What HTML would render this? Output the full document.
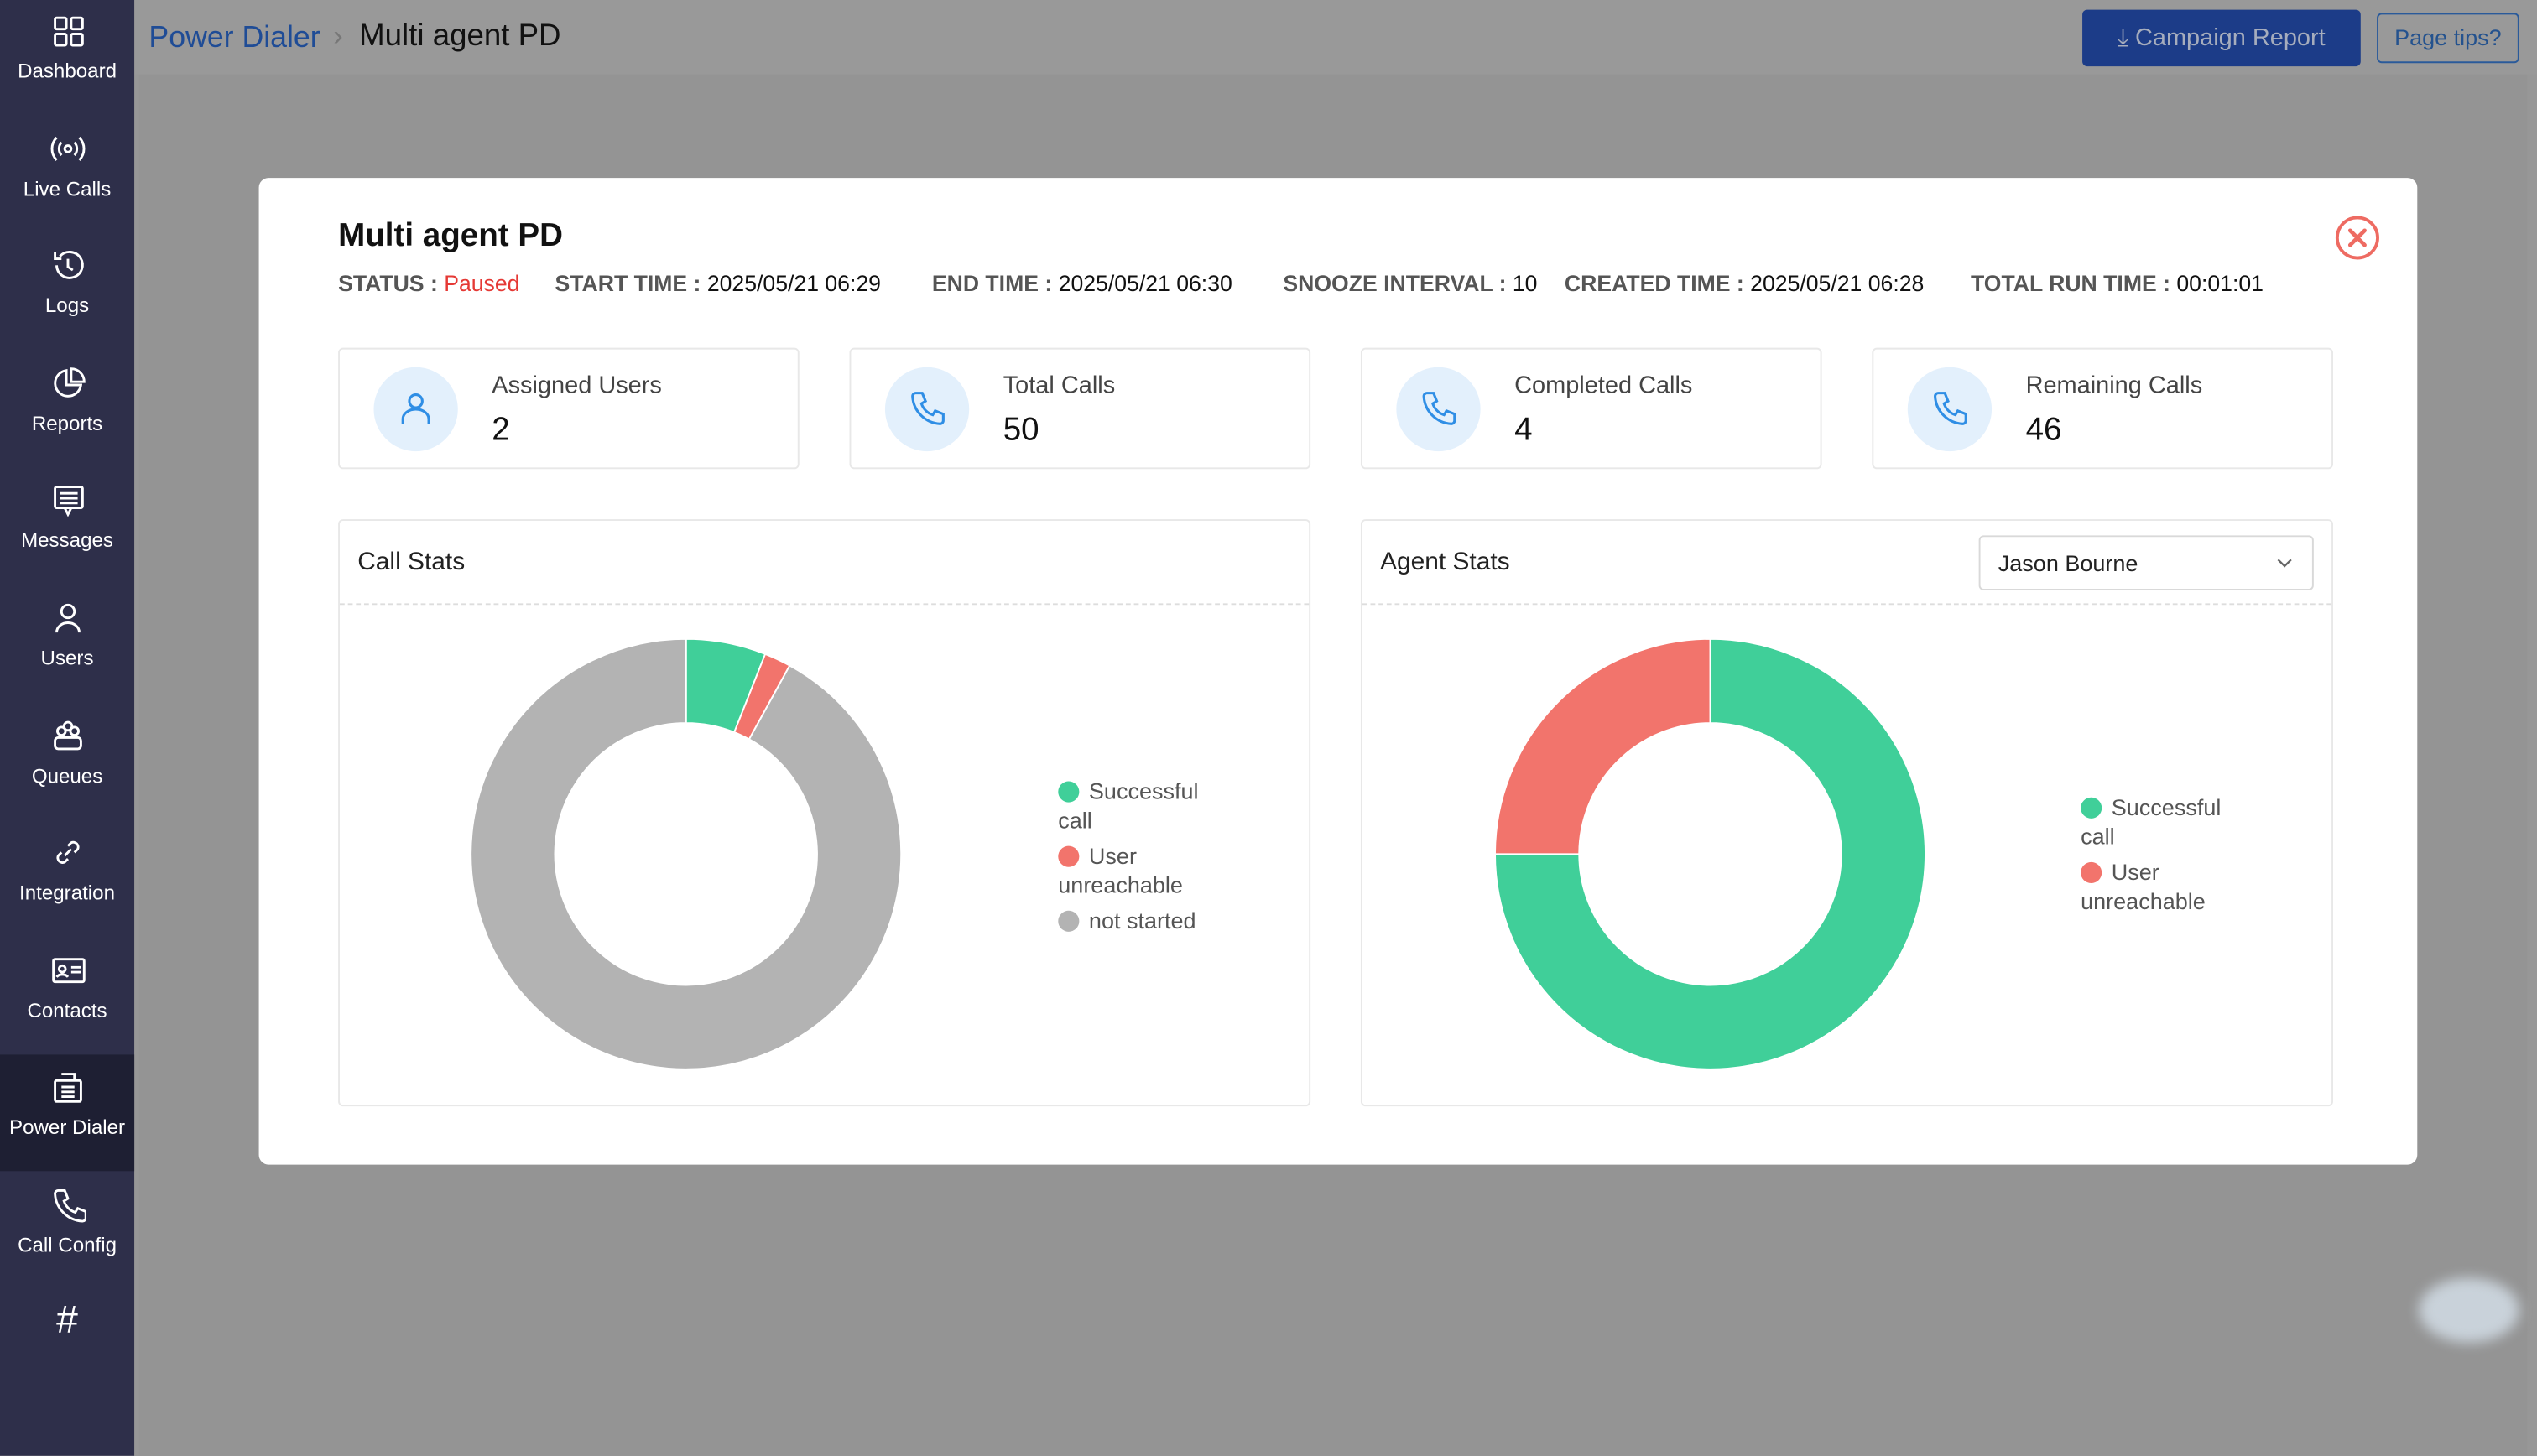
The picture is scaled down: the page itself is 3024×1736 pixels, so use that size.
<!DOCTYPE html>
<html><head><meta charset="utf-8">
<style>
*{box-sizing:border-box;margin:0;padding:0}
html,body{width:3024px;height:1614px;overflow:hidden;background:#979797;font-family:"Liberation Sans",sans-serif}
#root{position:absolute;left:0;top:0;width:1568px;height:900px;transform:scale(1.928571);transform-origin:0 0;background:#979797}
.abs{position:absolute}
.side{left:0;top:0;width:83px;height:900px;background:#2e2f4a}
.nav{position:absolute;left:0;width:83px;height:72px;color:#fff;font-size:12.5px;text-align:center}
.nav svg{position:absolute;left:31px;top:8px}
.nav span{position:absolute;left:0;right:0;top:37px}
.card{position:absolute;top:215px;width:285px;height:75px;border:1px solid #e8e8e8;border-radius:3px;background:#fff}
.card .ic{position:absolute;left:21px;top:11px;width:52px;height:52px;border-radius:50%;background:#e3f0fc}
.card .ic svg{position:absolute;left:14px;top:14px}
.card .lb{position:absolute;left:94px;top:14px;font-size:15px;color:#444}
.card .vl{position:absolute;left:94px;top:39px;font-size:20px;color:#111}
.panel{position:absolute;top:321px;width:601px;height:363px;border:1px solid #e8e8e8;border-radius:3px;background:#fff}
.panel .hd{position:absolute;left:0;right:0;top:0;height:52px;border-bottom:1px dashed #ddd}
.panel .tt{position:absolute;left:11px;top:17px;font-size:15.5px;color:#222}
.leg{position:absolute;font-size:14px;color:#555;line-height:17.5px;width:110px}
.leg .it{position:relative;margin-bottom:5px;text-indent:19px}
.leg .dot{position:absolute;left:0;top:1.5px;width:13px;height:13px;border-radius:50%}
.st{font-size:13.8px;color:#555;font-weight:bold;position:absolute;top:168px;white-space:nowrap}
.st b{font-weight:normal;color:#111}
</style></head><body>
<div id="root">
 <div class="abs" style="left:83px;top:0;width:1485px;height:46px;background:#999"></div>
 <div class="abs" style="left:92px;top:12px;font-size:18.5px;color:#1f4c96">Power Dialer</div>
 <div class="abs" style="left:206px;top:12px;font-size:18px;color:#777">›</div>
 <div class="abs" style="left:222px;top:12px;font-size:19px;color:#111">Multi agent PD</div>
 <div class="abs" style="left:1287px;top:6px;width:172px;height:35px;background:#1c3c88;border-radius:3px;color:#a6adbd;font-size:15px;line-height:35px;text-align:center">⤓ Campaign Report</div>
 <div class="abs" style="left:1469px;top:8px;width:88px;height:31px;border:1px solid #2a5a9a;border-radius:3px;color:#24528e;font-size:14px;line-height:29px;text-align:center">Page tips?</div>
 <div class="abs" style="left:86px;top:46px;width:1476px;height:854px;background:#949494"></div>
 <div class="abs" style="left:1495px;top:790px;width:62px;height:40px;border-radius:50%;background:#c9d2da;filter:blur(4px)"></div>

 <div class="abs side">
  <div class="abs" style="left:0;top:652px;width:83px;height:72px;background:#1e1f33"></div>
 </div>
 <div id="navs"></div>

 <div class="abs" style="left:160px;top:110px;width:1334px;height:610px;background:#fff;border-radius:6px">
  <div class="abs" style="left:49px;top:25px;font-size:20px;font-weight:bold;color:#111">Multi agent PD</div>
  <svg class="abs" style="left:1283px;top:23px" width="28" height="28"><circle cx="14" cy="14" r="12.5" fill="none" stroke="#ee6b62" stroke-width="2"/><path d="M9.5 9.5L18.5 18.5M18.5 9.5L9.5 18.5" stroke="#ee6b62" stroke-width="2.4" stroke-linecap="round"/></svg>
 </div>
 <div class="st" style="left:209px">STATUS : <b style="color:#e53935">Paused</b></div>
 <div class="st" style="left:343px">START TIME : <b>2025/05/21 06:29</b></div>
 <div class="st" style="left:576px">END TIME : <b>2025/05/21 06:30</b></div>
 <div class="st" style="left:793px">SNOOZE INTERVAL : <b>10</b></div>
 <div class="st" style="left:967px">CREATED TIME : <b>2025/05/21 06:28</b></div>
 <div class="st" style="left:1218px">TOTAL RUN TIME : <b>00:01:01</b></div>

 <div class="card" style="left:209px"><div class="ic"><svg width="24" height="24"><circle cx="12" cy="7" r="4" fill="none" stroke="#2f8ee5" stroke-width="1.6"/><path d="M4 21v-3a8 6 0 0 1 16 0v3" fill="none" stroke="#2f8ee5" stroke-width="1.6"/></svg></div><div class="lb">Assigned Users</div><div class="vl">2</div></div>
 <div class="card" style="left:525px"><div class="ic"><svg width="24" height="24"><path d="M5 2h4l2 5-2.5 1.5a11 11 0 0 0 7 7L17 13l5 2v4a2 2 0 0 1-2 2A18 18 0 0 1 3 4a2 2 0 0 1 2-2z" fill="none" stroke="#2f8ee5" stroke-width="1.6"/></svg></div><div class="lb">Total Calls</div><div class="vl">50</div></div>
 <div class="card" style="left:841px"><div class="ic"><svg width="24" height="24"><path d="M5 2h4l2 5-2.5 1.5a11 11 0 0 0 7 7L17 13l5 2v4a2 2 0 0 1-2 2A18 18 0 0 1 3 4a2 2 0 0 1 2-2z" fill="none" stroke="#2f8ee5" stroke-width="1.6"/></svg></div><div class="lb">Completed Calls</div><div class="vl">4</div></div>
 <div class="card" style="left:1157px"><div class="ic"><svg width="24" height="24"><path d="M5 2h4l2 5-2.5 1.5a11 11 0 0 0 7 7L17 13l5 2v4a2 2 0 0 1-2 2A18 18 0 0 1 3 4a2 2 0 0 1 2-2z" fill="none" stroke="#2f8ee5" stroke-width="1.6"/></svg></div><div class="lb">Remaining Calls</div><div class="vl">46</div></div>

 <div class="panel" style="left:209px"><div class="hd"></div><div class="tt">Call Stats</div></div>
 <div class="panel" style="left:841px"><div class="hd"></div><div class="tt">Agent Stats</div>
  <div class="abs" style="left:381px;top:9px;width:207px;height:34px;border:1px solid #d9d9d9;border-radius:3px;font-size:14px;color:#222;line-height:32px;padding-left:11px">Jason Bourne<svg class="abs" style="right:12px;top:12px" width="10" height="8"><path d="M1 2l4 4 4-4" fill="none" stroke="#666" stroke-width="1.2"/></svg></div>
 </div>
 <svg id="c1" class="abs" style="left:209px;top:373px" width="601" height="310"></svg>
 <svg id="c2" class="abs" style="left:841px;top:373px" width="601" height="310"></svg>
 <div id="leg1" class="leg" style="left:654px;top:481px"></div>
 <div id="leg2" class="leg" style="left:1286px;top:491px"></div>
</div>
<script>
const callLabels=["Successful call","User unreachable","not started"];
const callValues=[3,1,46];
const callColors=["#40cf99","#f2746c","#b3b3b3"];
const agentLabels=["Successful call","User unreachable"];
const agentValues=[3,1];
const agentColors=["#40cf99","#f2746c"];
const navLabels=["Dashboard","Live Calls","Logs","Reports","Messages","Users","Queues","Integration","Contacts","Power Dialer","Call Config","#"];
const NS="http://www.w3.org/2000/svg";
function angle(v,total){return v/total*Math.PI*2;}
function pt(cx,cy,r,a){return [cx+r*Math.sin(a),cy-r*Math.cos(a)];}
function donut(svg,vals,cols,names,cx,cy,R,r){
  const total=vals.reduce((a,b)=>a+b,0);let a0=0;
  vals.forEach((v,i)=>{
    const a1=a0+angle(v,total);const lg=(a1-a0)>Math.PI?1:0;
    const p1=pt(cx,cy,R,a0),p2=pt(cx,cy,R,a1),p3=pt(cx,cy,r,a1),p4=pt(cx,cy,r,a0);
    const p=document.createElementNS(NS,"path");
    p.setAttribute("d",`M${p1}A${R},${R} 0 ${lg} 1 ${p2}L${p3}A${r},${r} 0 ${lg} 0 ${p4}Z`);
    p.setAttribute("fill",cols[i]);p.setAttribute("stroke","#fff");p.setAttribute("stroke-width","1");
    
    
    svg.appendChild(p);a0=a1;
  });
}
donut(document.getElementById("c1"),callValues,callColors,callLabels,215,155,133,81);
donut(document.getElementById("c2"),agentValues,agentColors,agentLabels,216,155,133,81);
function legend(el,labels,cols){
  labels.forEach((l,i)=>{const d=document.createElement("div");d.className="it";
    
    
    d.innerHTML='<span class="dot" style="background:'+cols[i]+'"></span>'+l;el.appendChild(d);});
}
legend(document.getElementById("leg1"),callLabels,callColors);
legend(document.getElementById("leg2"),agentLabels,agentColors);
const icons=[
 '<rect x="3" y="3" width="7" height="7" rx="1"/><rect x="13" y="3" width="7" height="7" rx="1"/><rect x="3" y="13" width="7" height="7" rx="1"/><rect x="13" y="13" width="7" height="7" rx="1"/>',
 '<circle cx="11" cy="11" r="2"/><path d="M7 7a6 6 0 0 0 0 8M15 7a6 6 0 0 1 0 8M4 4a10 10 0 0 0 0 14M18 4a10 10 0 0 1 0 14"/>',
 '<path d="M4 11a8 8 0 1 0 2-5.5M3 3v4h4M11 7v5l3 2"/>',
 '<path d="M10 3a8 8 0 1 0 9 9h-9z M13 2v8h8a8 8 0 0 0-8-8z"/>',
 '<rect x="3" y="3" width="17" height="13" rx="1"/><path d="M6 7h11M6 10h11M6 13h11M9 16l2 4 2-4"/>',
 '<circle cx="11" cy="7" r="4"/><path d="M4 20a7 6 0 0 1 14 0"/>',
 '<circle cx="7" cy="8" r="2.5"/><circle cx="15" cy="8" r="2.5"/><circle cx="11" cy="5" r="2.5"/><rect x="3" y="12" width="16" height="7" rx="2"/>',
 '<path d="M9 13l4-4M7 11l-2 2a3 3 0 0 0 4 4l2-2M15 11l2-2a3 3 0 0 0-4-4l-2 2"/>',
 '<rect x="2" y="4" width="19" height="14" rx="1"/><circle cx="7.5" cy="10" r="2"/><path d="M4 15a4 3 0 0 1 7 0M13 9h6M13 12h6"/>',
 '<rect x="3" y="7" width="16" height="13" rx="1"/><path d="M7 3h8v4M7 11h8M7 14h8M7 17h8"/>',
 '<path d="M5 2h4l2 5-2.5 1.5a11 11 0 0 0 7 7L17 13l5 2v4a2 2 0 0 1-2 2A18 18 0 0 1 3 4a2 2 0 0 1 2-2z"/>',
 ''];
const navs=document.getElementById("navs");
navLabels.forEach((l,i)=>{
  const d=document.createElement("div");d.className="nav";d.style.top=(i*72.6)+"px";
  
  
  if(l==="#"){d.innerHTML='<span style="top:4px;font-size:24px">#</span>';}
  else d.innerHTML='<svg width="22" height="22" fill="none" stroke="#fff" stroke-width="1.5">'+icons[i]+'</svg><span>'+l+'</span>';
  navs.appendChild(d);
});
</script>
</body></html>
